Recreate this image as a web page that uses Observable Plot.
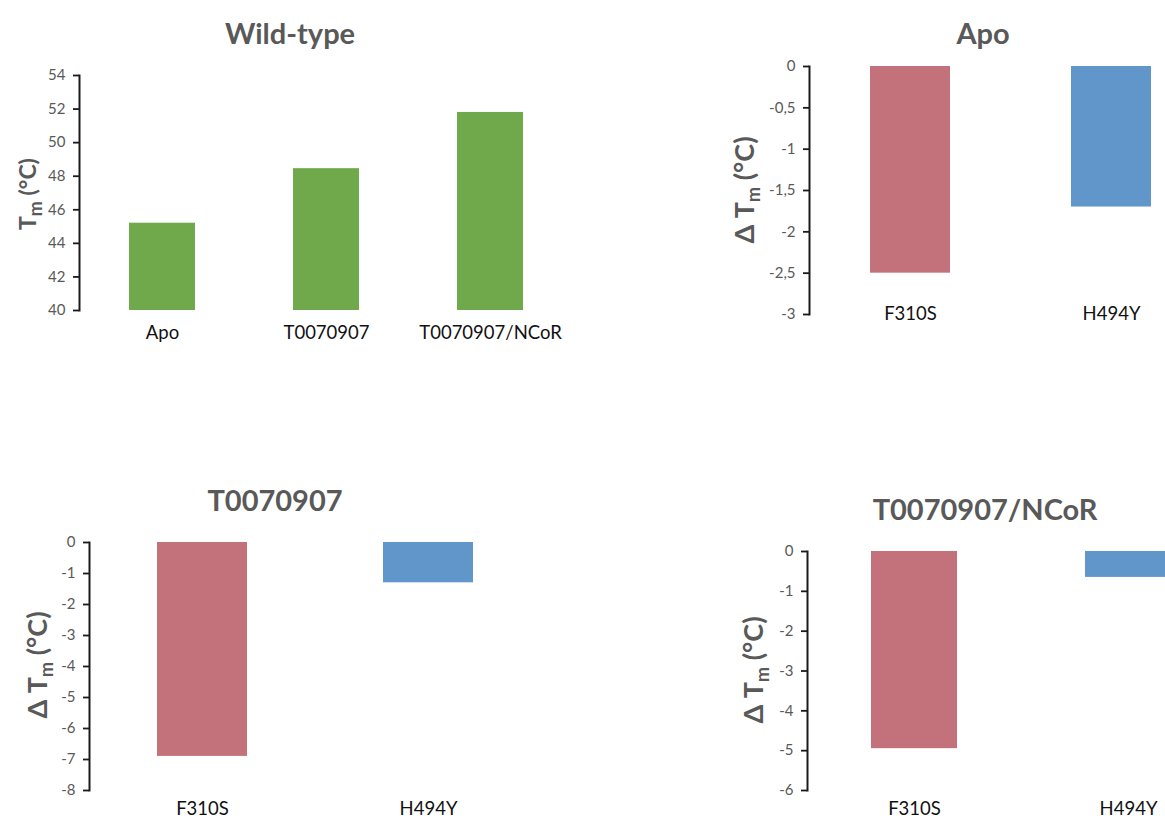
<!DOCTYPE html>
<html><head><meta charset="utf-8">
<script src="https://cdn.jsdelivr.net/npm/d3@7"></script>
<script src="https://cdn.jsdelivr.net/npm/@observablehq/plot@0.6"></script>
<style>
html,body{margin:0;padding:0;background:#fff;overflow:hidden;}
#wrap{position:relative;width:1165px;height:821px;overflow:hidden;font-family:Lato,"Open Sans",sans-serif;}
.panel{position:absolute;}
.panel svg{max-width:none !important;}
.panel svg g[aria-label="y-axis tick label"]{font-size:15px !important;}
.panel svg g[aria-label="x-axis tick label"]{font-size:18.5px !important;}
.title{position:absolute;transform:translate(-50%,-50%);font-weight:bold;font-size:29px;color:#595959;white-space:nowrap;}
.ylab{position:absolute;transform:translate(-50%,-50%) rotate(-90deg);font-weight:bold;font-size:27px;color:#595959;white-space:nowrap;}
.ylab sub{font-size:18px;vertical-align:-6px;}
</style></head>
<body><div id="wrap"></div>
<script>
// Wild-type Tm (°C)
const wtConditions = ["Apo", "T0070907", "T0070907/NCoR"];
const wtTm = [45.2, 48.45, 51.8];
// Mutants ΔTm (°C)
const mutants = ["F310S", "H494Y"];
const dTmApo = [-2.5, -1.7];
const dTmT007 = [-6.9, -1.3];
const dTmNCoR = [-4.95, -0.65];
// axis tick values
const wtTicks = [40, 42, 44, 46, 48, 50, 52, 54];
const apoTicks = [0, -0.5, -1, -1.5, -2, -2.5, -3];
const t007Ticks = [0, -1, -2, -3, -4, -5, -6, -7, -8];
const ncorTicks = [0, -1, -2, -3, -4, -5, -6];

const wtColor = "#70a94c";
const mutColors = ["#c3717a", "#6096c9"];
const wrap = document.getElementById("wrap");
const fmtComma = d => String(d).replace(".", ",");

function panel({left, top, width, height, mt, mb, ml, mr, data, yDomain, ticks, baseline, tickPad, title, titleX, titleY, ylabel, ylabX, ylabY, ylabSize}) {
  const svg = Plot.plot({
    width, height, marginTop: mt, marginBottom: mb, marginLeft: ml, marginRight: mr,
    style: {fontFamily: "Lato, 'Open Sans', sans-serif", background: "transparent", overflow: "visible", maxWidth: "none"},
    x: {domain: data.map(d => d.cond), paddingInner: 0.6, paddingOuter: 0.3, label: null},
    y: {domain: yDomain, label: null},
    color: {type: "identity"},
    marks: [
      Plot.barY(data, {x: "cond", y1: baseline, y2: "v", fill: "fill"}),
      Plot.axisY({ticks, tickSize: 6, tickPadding: 8, tickFormat: fmtComma, fill: "#595959", stroke: "#1a1a1a", strokeWidth: 1.8, strokeOpacity: 1}),
      Plot.frame({anchor: "left", stroke: "#1a1a1a", strokeWidth: 2, strokeOpacity: 1}),
      Plot.axisX({tickSize: 0, tickPadding: tickPad, lineAnchor: "middle", fill: "#111"})
    ]
  });
  const div = document.createElement("div");
  div.className = "panel";
  div.style.left = left + "px"; div.style.top = top + "px";
  div.style.width = width + "px"; div.style.height = height + "px";
  div.appendChild(svg);
  wrap.appendChild(div);
  const t = document.createElement("div");
  t.className = "title"; t.textContent = title;
  t.style.left = titleX + "px"; t.style.top = titleY + "px";
  wrap.appendChild(t);
  const yl = document.createElement("div");
  yl.className = "ylab"; yl.innerHTML = ylabel;
  yl.style.left = ylabX + "px"; yl.style.top = ylabY + "px";
  if (ylabSize) yl.style.fontSize = ylabSize + "px";
  wrap.appendChild(yl);
}

const wtData = wtConditions.map((c, i) => ({cond: c, v: wtTm[i], fill: wtColor}));
const mk = vals => mutants.map((m, i) => ({cond: m, v: vals[i], fill: mutColors[i]}));

panel({left: 0, top: 0, width: 592, height: 350, mt: 75, mb: 40, ml: 79, mr: 20,
  data: wtData, yDomain: [40, 54], ticks: wtTicks, baseline: 40, tickPad: 23,
  title: "Wild-type", titleX: 290, titleY: 32, ylabel: "T<sub>m</sub> (°C)", ylabX: 29, ylabY: 194, ylabSize: 23});

panel({left: 700, top: 0, width: 532, height: 350, mt: 66, mb: 36, ml: 109, mr: 20,
  data: mk(dTmApo), yDomain: [-3, 0], ticks: apoTicks, baseline: 0, tickPad: 0,
  title: "Apo", titleX: 983, titleY: 32, ylabel: "Δ T<sub>m</sub> (°C)", ylabX: 745, ylabY: 190});

panel({left: 0, top: 460, width: 561, height: 361, mt: 82, mb: 31, ml: 89, mr: 20,
  data: mk(dTmT007), yDomain: [-8, 0], ticks: t007Ticks, baseline: 0, tickPad: 19,
  title: "T0070907", titleX: 275, titleY: 499, ylabel: "Δ T<sub>m</sub> (°C)", ylabX: 38, ylabY: 665});

panel({left: 700, top: 460, width: 555, height: 361, mt: 91, mb: 31, ml: 107, mr: 20,
  data: mk(dTmNCoR), yDomain: [-6, 0], ticks: ncorTicks, baseline: 0, tickPad: 19,
  title: "T0070907/NCoR", titleX: 985, titleY: 508, ylabel: "Δ T<sub>m</sub> (°C)", ylabX: 754, ylabY: 670});
</script></body></html>
